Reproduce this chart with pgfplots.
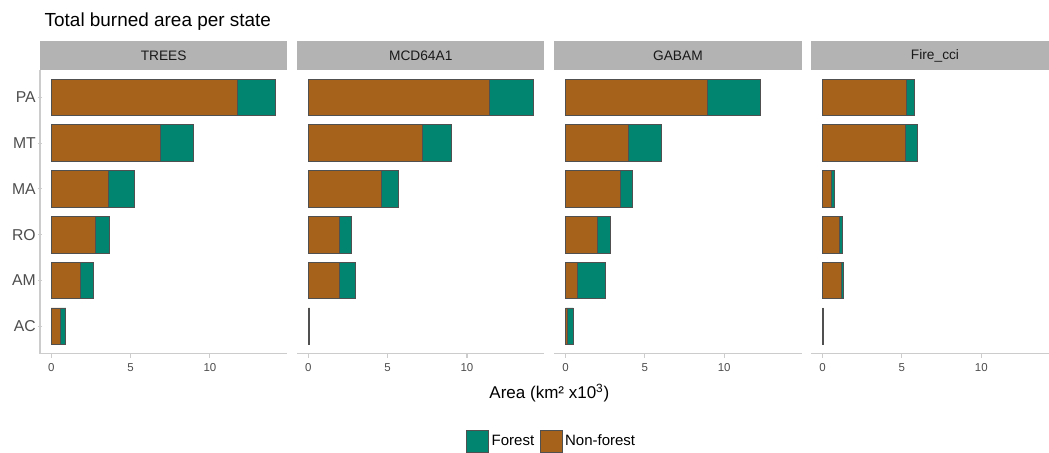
\documentclass[border=0pt]{standalone}
\usepackage{fontspec}
\setmainfont{Liberation Sans}
\usepackage{pgfplots}
\pgfplotsset{compat=1.18}
\usepackage{pgfplotstable}

\definecolor{nonforest}{HTML}{A6611A}
\definecolor{forest}{HTML}{018571}
\definecolor{barline}{HTML}{505050}
\definecolor{stripgray}{HTML}{B3B3B3}
\definecolor{axisgray}{HTML}{CCCCCC}
\definecolor{ticktext}{HTML}{4D4D4D}

% Burned area (km^2 x 10^3); pos: AC=1, AM=2, RO=3, MA=4, MT=5, PA=6
\pgfplotstableread{
pos nonforest forest
1 0.61 0.31
2 1.85 0.82
3 2.79 0.88
4 3.61 1.64
5 6.91 2.08
6 11.76 2.39
}\trees

\pgfplotstableread{
pos nonforest forest
1 0.06 0.02
2 1.95 0.99
3 1.99 0.70
4 4.61 1.05
5 7.19 1.81
6 11.40 2.77
}\mcd

\pgfplotstableread{
pos nonforest forest
1 0.10 0.40
2 0.76 1.76
3 2.02 0.78
4 3.43 0.77
5 3.97 2.06
6 8.95 3.32
}\gabam

\pgfplotstableread{
pos nonforest forest
1 0.03 0.01
2 1.16 0.16
3 1.09 0.17
4 0.55 0.19
5 5.20 0.80
6 5.29 0.48
}\firecci

\pgfplotsset{
  panel/.style={
    scale only axis, width=185.5pt, height=212.8pt,
    anchor=south west,
    xbar stacked, bar width=0.8,
    xmin=-0.709, xmax=14.88, ymin=0.4, ymax=6.6,
    axis x line=bottom,
    xtick={0,5,10}, tick align=outside, major tick length=3pt,
    tick style={draw=axisgray, line width=0.8pt},
    /pgf/number format/assume math mode=true,
    xticklabel style={font=\fontsize{8.6}{10}\selectfont, text=ticktext, yshift=-1pt},
    yticklabel style={font=\fontsize{11.8}{13}\selectfont, text=ticktext, inner xsep=1.5pt},
    every axis plot/.append style={draw=barline, line width=0.65pt},
  },
  plain lines/.style={
    axis line style={-, draw=axisgray, line width=0.8pt},
    x axis line style={-}, y axis line style={-},
    every outer x axis line/.append style={-},
    every outer y axis line/.append style={-},
  },
  strip/.style={after end axis/.append code={
      \fill[stripgray] (rel axis cs:0,1) rectangle ([yshift=21.75pt]rel axis cs:1,1);
      \node[font=\fontsize{10.3}{12}\selectfont, text=black!90]
        at ([yshift=10.875pt]rel axis cs:0.5,1) {#1};
  }},
}

\begin{document}
\begin{tikzpicture}

% TREES
\begin{axis}[panel, strip=TREES, at={(30pt,74.475pt)},
  axis y line=left, plain lines,
  ytick={1,...,6}, yticklabels={AC,AM,RO,MA,MT,PA},
  legend style={at={(2.07,-0.3096)}, anchor=center, draw=none, fill=none,
    legend columns=-1, font=\fontsize{11.25}{13}\selectfont,
    /tikz/every even column/.append style={column sep=2pt},
    /tikz/every odd column/.append style={column sep=0pt}},
  legend cell align=left]
  \addlegendimage{legend image code/.code={\draw[fill=forest, draw=barline, line width=0.65pt] (0pt,-8.4pt) rectangle (16.5pt,8.4pt);}}
  \addlegendentry{Forest}
  \addlegendimage{legend image code/.code={\draw[fill=nonforest, draw=barline, line width=0.65pt] (0pt,-8.4pt) rectangle (16.5pt,8.4pt);}}
  \addlegendentry{Non-forest}
  \addplot[fill=nonforest, forget plot] table[x=nonforest, y=pos] {\trees};
  \addplot[fill=forest, forget plot] table[x=forest, y=pos] {\trees};
\end{axis}

% MCD64A1
\begin{axis}[panel, strip=MCD64A1, at={(222.8pt,74.475pt)},
  axis y line=none, plain lines, ytick=\empty]
  \addplot[fill=nonforest] table[x=nonforest, y=pos] {\mcd};
  \addplot[fill=forest] table[x=forest, y=pos] {\mcd};
\end{axis}

% GABAM
\begin{axis}[panel, strip=GABAM, at={(415.7pt,74.475pt)},
  axis y line=none, plain lines, ytick=\empty]
  \addplot[fill=nonforest] table[x=nonforest, y=pos] {\gabam};
  \addplot[fill=forest] table[x=forest, y=pos] {\gabam};
\end{axis}

% Fire_cci
\begin{axis}[panel, strip=Fire\_cci, at={(608.5pt,74.475pt)},
  axis y line=none, plain lines, ytick=\empty]
  \addplot[fill=nonforest] table[x=nonforest, y=pos] {\firecci};
  \addplot[fill=forest] table[x=forest, y=pos] {\firecci};
\end{axis}

% title and shared x label
\node[anchor=base west, font=\fontsize{14.2}{17}\selectfont] at (30pt,319.9pt)
  {Total burned area per state};
\node[anchor=base, font=\fontsize{12.75}{15}\selectfont] at (412pt,40.9pt)
  {Area (km² x10\textsuperscript{3})};

\pgfresetboundingbox
\path[use as bounding box] (0pt,0pt) rectangle (786.75pt,339.75pt);
\end{tikzpicture}
\end{document}
